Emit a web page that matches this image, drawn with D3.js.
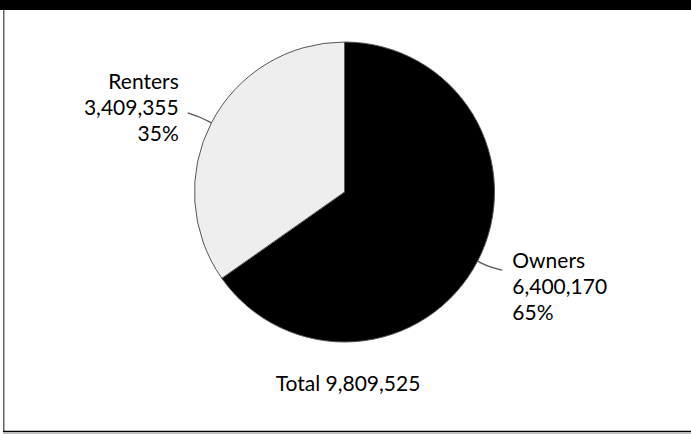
<!DOCTYPE html>
<html><head><meta charset="utf-8">
<script src="https://cdn.jsdelivr.net/npm/d3@7"></script>
<style>body{margin:0;background:#fff;}svg{display:block;}</style>
</head><body>
<script>
const categories = ["Owners", "Renters"];
const values = [6400170, 3409355];
const percentLabels = ["65%", "35%"];
const totalLabel = "Total 9,809,525";
const colors = ["#000000", "#eeeeee"];

const W = 691, H = 434;
const svg = d3.select("body").append("svg").attr("width", W).attr("height", H);
const font = "Lato, 'Open Sans', sans-serif";

// frame
svg.append("rect").attr("x", 0).attr("y", 0).attr("width", W).attr("height", 10).attr("fill", "#000");
svg.append("line").attr("x1", 3.75).attr("x2", 3.75).attr("y1", 10).attr("y2", 432).attr("stroke", "#666").attr("stroke-width", 1.5);
svg.append("line").attr("x1", 3).attr("x2", W).attr("y1", 431.5).attr("y2", 431.5).attr("stroke", "#000").attr("stroke-width", 1.6);
svg.append("line").attr("x1", 3).attr("x2", W).attr("y1", 433.5).attr("y2", 433.5).attr("stroke", "#bbb").attr("stroke-width", 1);

const cx = 344.5, cy = 192, r = 150;
const g = svg.append("g").attr("transform", `translate(${cx},${cy})`);
const data = categories.map((c, i) => ({cat: c, value: values[i], pct: percentLabels[i], color: colors[i]}));
const pie = d3.pie().value(d => d.value).sort(null);
const arcs = pie(data);
const arc = d3.arc().innerRadius(0).outerRadius(r);

g.selectAll("path.slice").data(arcs).enter().append("path")
  .attr("class", "slice")
  .attr("d", arc)
  .attr("fill", d => d.data.color)
  .attr("stroke", "#555").attr("stroke-width", 1);

// leader lines
const fmt = d3.format(",");
arcs.forEach((a, i) => {
  const mid = (a.startAngle + a.endAngle) / 2;
  const p = rr => [rr * Math.sin(mid), -rr * Math.cos(mid)];
  const p0 = p(r), p1 = p(r + 12);
  const right = Math.sin(mid) > 0;
  const p2 = [p1[0] + (right ? 14 : -13), p1[1] + (right ? 3.5 : -4.5)];
  g.append("path")
    .attr("d", d3.line().curve(d3.curveBasis)([p0, p0, p1, p2, p2]))
    .attr("fill", "none").attr("stroke", "#555").attr("stroke-width", 1.3);
  const tx = right ? p2[0] + 10 : p2[0] - 9;
  const ty0 = right ? p2[1] - 2.5 : p2[1] - 24;
  const t = g.append("text")
    .attr("text-anchor", right ? "start" : "end")
    .attr("font-family", font).attr("font-size", 21).attr("fill", "#000");
  [a.data.cat, fmt(a.data.value), a.data.pct].forEach((s, k) => {
    t.append("tspan").attr("x", tx).attr("y", ty0 + k * 26).text(s);
  });
});

svg.append("text").attr("x", 348).attr("y", 391)
  .attr("text-anchor", "middle")
  .attr("font-family", font).attr("font-size", 21).attr("fill", "#000")
  .text(totalLabel);
</script>
</body></html>
